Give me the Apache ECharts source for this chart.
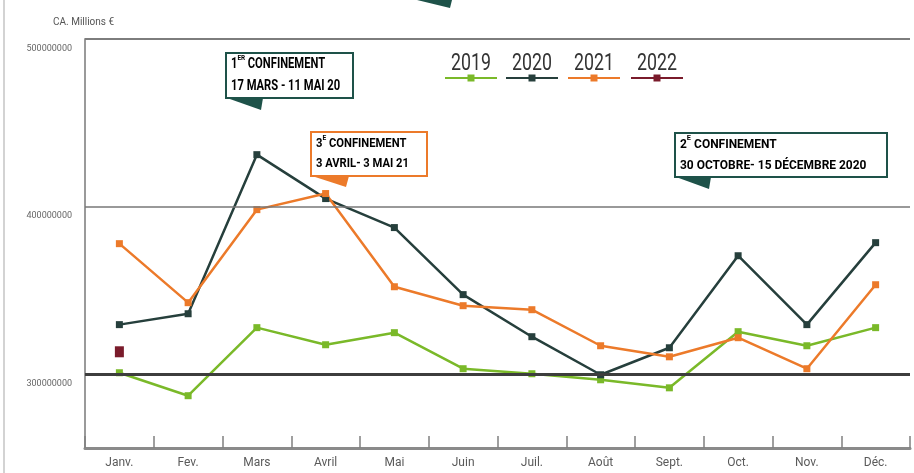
<!DOCTYPE html>
<html>
<head>
<meta charset="utf-8">
<title>CA Millions €</title>
<script src="https://cdn.jsdelivr.net/npm/echarts@6/dist/echarts.min.js"></script>
<style>html,body{margin:0;padding:0;background:#fff}#main{width:914px;height:473px}</style>
</head>
<body>
<div id="main"></div>
<script type="text/javascript">
var months = ['Janv.', 'Fev.', 'Mars', 'Avril', 'Mai', 'Juin', 'Juil.', 'Août', 'Sept.', 'Oct.', 'Nov.', 'Déc.'];
var years = ['2019', '2020', '2021', '2022'];
var ca2019 = [300900000, 287200000, 327800000, 317600000, 324800000, 303300000, 300300000, 296700000, 291900000, 325400000, 317000000, 327800000];
var ca2020 = [329600000, 336100000, 431000000, 404800000, 387500000, 347500000, 322400000, 299700000, 315800000, 370700000, 329600000, 378500000];
var ca2021 = [377900000, 342700000, 398200000, 407800000, 352200000, 340900000, 338500000, 317000000, 310400000, 321800000, 303300000, 353400000];
var ca2022 = [313400000];
var yTicks = [300000000, 400000000, 500000000];

var colors = ['#7ab929', '#263f3c', '#ec7a2a', '#7a1b2b'];
var teal = '#1e5249';
var font = "'Liberation Sans Narrow', 'Roboto', 'DejaVu Sans', sans-serif";

var myChart = echarts.init(document.getElementById('main'));

// lignes horizontales de référence
var refLines = [
    { yAxis: yTicks[0], lineStyle: { color: '#3d3d3d', width: 3, type: 'solid' } },
    { yAxis: yTicks[1], lineStyle: { color: '#777', width: 1.5, type: 'solid' } },
    { yAxis: yTicks[2], lineStyle: { color: '#7d7d7d', width: 2, type: 'solid' } }
];

function boxText(lh, size) {
    return {
        b: { fontSize: size, fontWeight: 'bold', fontFamily: font, color: '#2e2e2e', lineHeight: lh },
        s: { fontSize: 8, fontWeight: 'bold', fontFamily: font, color: '#2e2e2e', lineHeight: 14, verticalAlign: 'top' }
    };
}

function callout(x, y, w, h, color, txt, lh, size, sx, tail) {
    return {
        type: 'group',
        children: [
            { type: 'rect', shape: { x: x, y: y, width: w, height: h }, style: { fill: '#fff', stroke: color, lineWidth: 2 } },
            { type: 'polygon', shape: { points: tail }, style: { fill: color } },
            { type: 'text', x: x + 5, y: y + h / 2, scaleX: sx, style: { text: txt, rich: boxText(lh, size), verticalAlign: 'middle', align: 'left' } }
        ]
    };
}

// légende : année au-dessus d'un trait avec marqueur
var legendX = [445, 506, 568, 631];
function legendItem(name, i) {
    var x = legendX[i], w = 52, cx = x + w / 2;
    return {
        type: 'group',
        children: [
            { type: 'text', x: cx, y: 64, scaleX: 0.74, style: { text: name, fontSize: 24, fontFamily: font, fill: '#333', align: 'center', verticalAlign: 'middle' } },
            { type: 'line', shape: { x1: x, y1: 78, x2: x + w, y2: 78 }, style: { stroke: colors[i], lineWidth: 2 } },
            { type: 'rect', shape: { x: cx - 3.5, y: 74.5, width: 7, height: 7 }, style: { fill: colors[i] } }
        ]
    };
}

var option = {
    animation: false,
    grid: { left: 85, right: 4, top: 39, bottom: 25 },
    xAxis: {
        type: 'category',
        data: months,
        axisLine: { lineStyle: { color: '#8a8a8a', width: 3 } },
        axisTick: { show: true, inside: true, length: 12, lineStyle: { color: '#808080', width: 1.5 } },
        axisLabel: { color: '#5a5a5a', fontSize: 12, fontFamily: font, margin: 9 }
    },
    yAxis: {
        type: 'value',
        name: 'CA. Millions €',
        nameLocation: 'end',
        nameGap: 12,
        nameTextStyle: { color: '#555', fontSize: 10, fontFamily: font, align: 'left', padding: [0, 0, 0, -32] },
        min: 256000000,
        max: 500000000,
        axisLine: { show: true, lineStyle: { color: '#9a9a9a', width: 2 } },
        axisTick: { show: false },
        splitLine: { show: false },
        axisLabel: {
            customValues: yTicks,
            formatter: function (v) { return String(v); },
            color: '#666',
            fontSize: 9,
            fontFamily: font,
            margin: 13,
            verticalAlign: 'top',
            padding: [5, 0, 0, 0]
        }
    },
    series: [
        {
            name: 'ref',
            type: 'line',
            data: [],
            z: 1,
            silent: true,
            markLine: { silent: true, symbol: 'none', label: { show: false }, data: refLines }
        },
        {
            name: '2019', type: 'line', data: ca2019, z: 3,
            symbol: 'rect', symbolSize: 7,
            itemStyle: { color: colors[0] }, lineStyle: { color: colors[0], width: 2.5 }
        },
        {
            name: '2020', type: 'line', data: ca2020, z: 3,
            symbol: 'rect', symbolSize: 7,
            itemStyle: { color: colors[1] }, lineStyle: { color: colors[1], width: 2.5 }
        },
        {
            name: '2021', type: 'line', data: ca2021, z: 3,
            symbol: 'rect', symbolSize: 7,
            itemStyle: { color: colors[2] }, lineStyle: { color: colors[2], width: 2.5 }
        },
        {
            name: '2022', type: 'line', data: ca2022, z: 3,
            symbol: 'rect', symbolSize: [9, 11],
            itemStyle: { color: colors[3] }, lineStyle: { color: colors[3], width: 2.5 }
        }
    ],
    graphic: [
        { type: 'line', shape: { x1: 4, y1: 0, x2: 4, y2: 473 }, style: { stroke: '#c4c4c4', lineWidth: 1.5 } },
        { type: 'polygon', shape: { points: [[417, 0], [452, 0], [450, 8]] }, style: { fill: teal } },
        callout(226, 53, 127, 45, teal, '{b|1}{s|ER} {b|CONFINEMENT}\n{b|17 MARS - 11 MAI 20}', 22, 14, 0.8,
            [[227, 98], [263, 98], [261, 110]]),
        callout(311, 132, 116, 44, colors[2], '{b|3}{s|E} {b|CONFINEMENT}\n{b|3 AVRIL- 3 MAI 21}', 20, 13.5, 0.83,
            [[312, 176], [349, 176], [346, 187]]),
        callout(675, 133, 212, 44, teal, '{b|2}{s|E} {b|CONFINEMENT}\n{b|30 OCTOBRE- 15 DÉCEMBRE 2020}', 21, 13, 0.92,
            [[676, 177], [711, 177], [709, 189]])
    ].concat(years.map(legendItem))
};

myChart.setOption(option);
</script>
</body>
</html>
